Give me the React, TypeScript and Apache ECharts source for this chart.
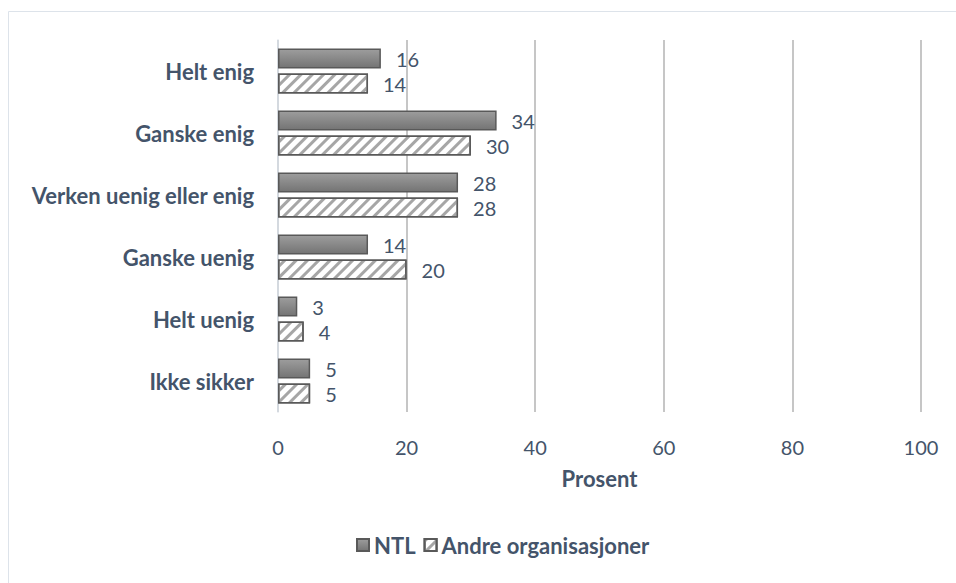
import React, { useEffect, useRef } from "react";
import * as echarts from "echarts";

const categories = [
  "Helt enig",
  "Ganske enig",
  "Verken uenig eller enig",
  "Ganske uenig",
  "Helt uenig",
  "Ikke sikker",
];
const seriesNames = ["NTL", "Andre organisasjoner"];
const ntlValues = [16, 34, 28, 14, 3, 5];
const andreValues = [14, 30, 28, 20, 4, 5];
const xTicks = { min: 0, max: 100, interval: 20 };
const axisName = "Prosent";

const TEXT = "#44546A";
const FONT = "Lato";

export default function App() {
  const ref = useRef<HTMLDivElement>(null);
  useEffect(() => {
    if (!ref.current) return;
    const chart = echarts.init(ref.current, undefined, { renderer: "svg" });
    const labelStyle = {
      show: true,
      position: "right" as const,
      distance: 15,
      color: TEXT,
      fontFamily: FONT,
      fontSize: 20,
    };
    chart.setOption({
      animation: false,
      backgroundColor: "#ffffff",
      textStyle: { fontFamily: FONT },
      graphic: [
        {
          type: "rect",
          shape: { x: 8.5, y: 11.5, width: 980, height: 620 },
          style: { fill: "none", stroke: "#dde3ea", lineWidth: 1 },
          silent: true,
        },
      ],
      grid: { left: 278, right: 35, top: 40, bottom: 171, containLabel: false },
      legend: {
        bottom: 22,
        left: 351,
        itemWidth: 12,
        itemHeight: 12,
        itemGap: 8,
        icon: "rect",
        textStyle: { color: TEXT, fontFamily: FONT, fontSize: 22, fontWeight: "bold" },
        data: seriesNames,
      },
      xAxis: {
        type: "value",
        min: xTicks.min,
        max: xTicks.max,
        interval: xTicks.interval,
        name: axisName,
        nameLocation: "middle",
        nameGap: 55,
        nameTextStyle: { color: TEXT, fontFamily: FONT, fontSize: 22, fontWeight: "bold" },
        axisLine: { show: false },
        axisTick: { show: false },
        axisLabel: { color: TEXT, fontFamily: FONT, fontSize: 20, margin: 25 },
        splitLine: { show: true, lineStyle: { color: "#b3b3b3", width: 1.5 } },
      },
      yAxis: {
        type: "category",
        inverse: true,
        data: categories,
        axisLine: { show: true, lineStyle: { color: "#d9dfe7", width: 1.5 } },
        axisTick: { show: false },
        axisLabel: {
          color: TEXT,
          fontFamily: FONT,
          fontSize: 22,
          fontWeight: "bold",
          margin: 24,
        },
      },
      series: [
        {
          name: seriesNames[0],
          type: "bar",
          data: ntlValues,
          barWidth: 20,
          barGap: "25%",
          itemStyle: {
            color: new echarts.graphic.LinearGradient(0, 0, 0, 1, [
              { offset: 0, color: "#9d9d9d" },
              { offset: 1, color: "#747474" },
            ]),
            borderColor: "#595959",
            borderWidth: 1.5,
          },
          label: labelStyle,
        },
        {
          name: seriesNames[1],
          type: "bar",
          data: andreValues,
          barWidth: 20,
          barGap: "25%",
          itemStyle: {
            color: "#ffffff",
            borderColor: "#595959",
            borderWidth: 1.5,
            decal: {
              symbol: "rect",
              symbolSize: 1,
              dashArrayX: [1, 0],
              dashArrayY: [3, 5],
              rotation: -Math.PI / 4,
              color: "#a6a6a6",
            },
          },
          label: labelStyle,
        },
      ],
    });
    return () => chart.dispose();
  }, []);
  return (
    <div
      ref={ref}
      style={{ position: "absolute", left: 0, top: 0, width: 956, height: 583 }}
    />
  );
}
